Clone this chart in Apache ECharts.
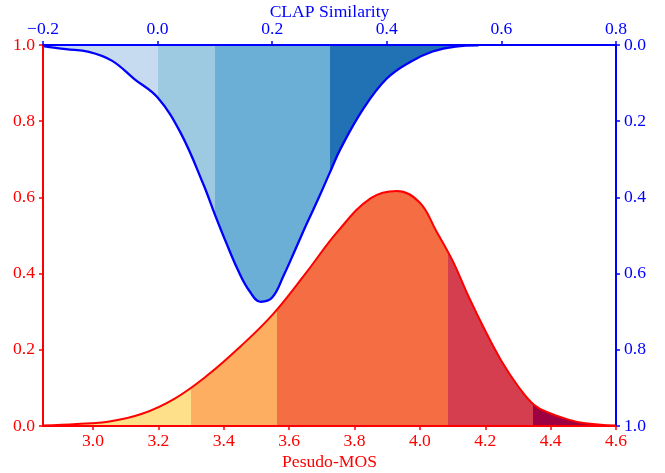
<!DOCTYPE html>
<html><head><meta charset="utf-8">
<script src="https://cdn.jsdelivr.net/npm/echarts@6/dist/echarts.min.js"></script>
<style>html,body{margin:0;padding:0;background:#fff}#c{width:665px;height:473px}</style>
</head><body><div id="c"></div>
<script>
// Pseudo-MOS density (bottom / left axes)
const mosX = [2.847, 2.95, 3.05, 3.15, 3.25, 3.35, 3.45, 3.55, 3.65, 3.75, 3.85, 3.93, 4.0, 4.05, 4.1, 4.15, 4.2, 4.25, 4.3, 4.35, 4.4, 4.45, 4.5, 4.6];
const mosDensity = [0.001, 0.005, 0.012, 0.032, 0.072, 0.133, 0.208, 0.293, 0.40, 0.512, 0.598, 0.617, 0.586, 0.512, 0.434, 0.338, 0.25, 0.17, 0.105, 0.055, 0.033, 0.018, 0.008, 0.001];
// CLAP similarity density (top / right inverted axes)
const clapX = [-0.2, -0.16, -0.12, -0.08, -0.04, 0.0, 0.04, 0.08, 0.10, 0.12, 0.14, 0.16, 0.18, 0.20, 0.22, 0.24, 0.26, 0.28, 0.30, 0.32, 0.36, 0.40, 0.44, 0.48, 0.52, 0.56];
const clapDensity = [0.003, 0.011, 0.018, 0.041, 0.09, 0.138, 0.23, 0.366, 0.445, 0.52, 0.59, 0.645, 0.674, 0.663, 0.605, 0.538, 0.47, 0.405, 0.337, 0.27, 0.165, 0.088, 0.045, 0.017, 0.004, 0.001];

const mosTicks = [3.0, 3.2, 3.4, 3.6, 3.8, 4.0, 4.2, 4.4, 4.6];
const mosBands = [3.3, 3.563, 4.085, 4.347];
const clapBands = [0.0, 0.1, 0.3];
const mosColors = ['#fee08b', '#fdae61', '#f46d43', '#d53e4f', '#9e0142'];
const clapColors = ['#c6dbef', '#9ecae1', '#6baed6', '#2171b5'];

function pieces(bands, colors) {
  const out = [];
  for (let i = 0; i < colors.length; i++) {
    out.push({
      gte: i === 0 ? -100 : bands[i - 1],
      lt: i === colors.length - 1 ? 100 : bands[i],
      color: colors[i]
    });
  }
  return out;
}
const zip = (a, b) => a.map((v, i) => [v, b[i]]);
const FONT = 'Liberation Serif';
const FS = 17.6;
const RED = '#ff0000', BLUE = '#0000ff';
const fmt = v => (v < 0 ? '\u2212' : '') + Math.abs(v).toFixed(1);

const chart = echarts.init(document.getElementById('c'), null, {renderer: 'canvas'});
chart.setOption({
  animation: false,
  backgroundColor: '#fff',
  grid: {left: 43, right: 49, top: 45, bottom: 47, containLabel: false, outerBoundsMode: 'none'},
  visualMap: [
    {type: 'piecewise', show: false, dimension: 0, seriesIndex: 0, pieces: pieces(mosBands, mosColors)},
    {type: 'piecewise', show: false, dimension: 0, seriesIndex: 1, pieces: pieces(clapBands, clapColors)}
  ],
  xAxis: [
    {
      type: 'value', position: 'bottom', min: 2.847, max: 4.6, z: 10,
      name: 'Pesudo-MOS', nameLocation: 'middle', nameGap: 27, nameMoveOverlap: false,
      nameTextStyle: {color: RED, fontFamily: FONT, fontSize: FS},
      axisLine: {show: true, onZero: false, lineStyle: {color: RED, width: 2}},
      axisTick: {show: true, length: 4, customValues: mosTicks, lineStyle: {color: RED, width: 1.5}},
      axisLabel: {customValues: mosTicks, color: RED, fontFamily: FONT, fontSize: FS, margin: 6, formatter: fmt},
      splitLine: {show: false}
    },
    {
      type: 'value', position: 'top', min: -0.2, max: 0.8, interval: 0.2, z: 10,
      name: 'CLAP Similarity', nameLocation: 'middle', nameGap: 23.5, nameMoveOverlap: false,
      nameTextStyle: {color: BLUE, fontFamily: FONT, fontSize: FS},
      axisLine: {show: true, onZero: false, lineStyle: {color: BLUE, width: 2}},
      axisTick: {show: true, length: 4, lineStyle: {color: BLUE, width: 1.5}},
      axisLabel: {color: BLUE, fontFamily: FONT, fontSize: FS, margin: 7, formatter: fmt, showMinLabel: true, showMaxLabel: true},
      splitLine: {show: false}
    }
  ],
  yAxis: [
    {
      type: 'value', position: 'left', min: 0, max: 1, interval: 0.2, z: 10,
      axisLine: {show: true, onZero: false, lineStyle: {color: RED, width: 2}},
      axisTick: {show: true, length: 4, lineStyle: {color: RED, width: 1.5}},
      axisLabel: {color: RED, fontFamily: FONT, fontSize: FS, margin: 8, formatter: fmt},
      splitLine: {show: false}
    },
    {
      type: 'value', position: 'right', min: 0, max: 1, interval: 0.2, inverse: true, z: 10,
      axisLine: {show: true, onZero: false, lineStyle: {color: BLUE, width: 2}},
      axisTick: {show: true, length: 4, lineStyle: {color: BLUE, width: 1.5}},
      axisLabel: {color: BLUE, fontFamily: FONT, fontSize: FS, margin: 8, formatter: fmt},
      splitLine: {show: false}
    }
  ],
  series: [
    {
      type: 'line', xAxisIndex: 0, yAxisIndex: 0, data: zip(mosX, mosDensity),
      smooth: 0.4, showSymbol: false, z: 2,
      lineStyle: {color: RED, width: 2},
      areaStyle: {opacity: 1}
    },
    {
      type: 'line', xAxisIndex: 1, yAxisIndex: 1, data: zip(clapX, clapDensity),
      smooth: 0.4, showSymbol: false, z: 3,
      lineStyle: {color: BLUE, width: 2.3},
      areaStyle: {opacity: 1}
    }
  ]
});
</script>
</body></html>
